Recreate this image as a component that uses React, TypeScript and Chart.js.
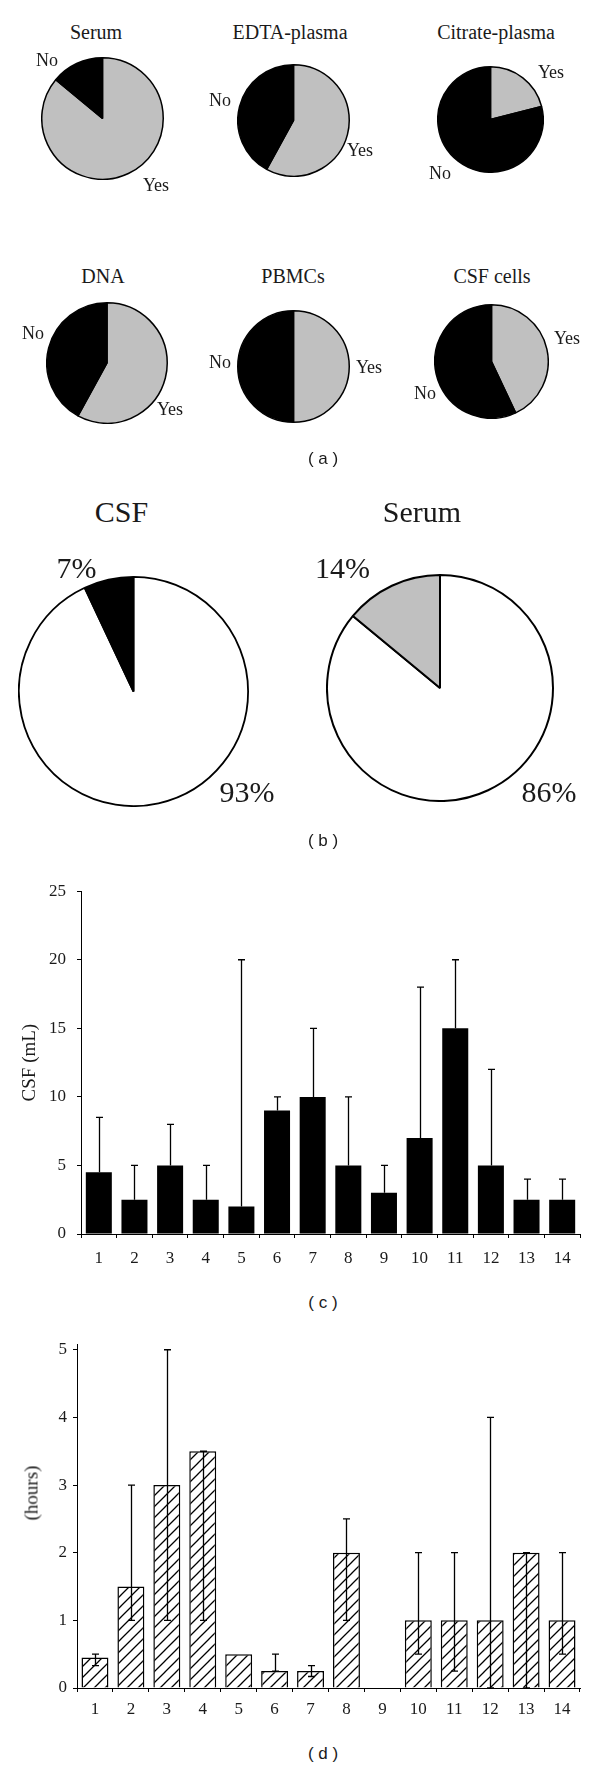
import React, { useEffect, useRef } from 'react';
import { Chart, registerables } from 'chart.js';

Chart.register(...registerables);

// ---------- Data ----------
const sampleTypes = ['Serum', 'EDTA-plasma', 'Citrate-plasma', 'DNA', 'PBMCs', 'CSF cells'];
const sampleYes = [86, 58, 21, 58, 50, 43];
const sampleNo = [14, 42, 79, 42, 50, 57];

const fluidTitles = ['CSF', 'Serum'];
const fluidMajor = [93, 86];
const fluidMinor = [7, 14];

const subjects = ['1', '2', '3', '4', '5', '6', '7', '8', '9', '10', '11', '12', '13', '14'];
const csfVolume = [4.5, 2.5, 5, 2.5, 2, 9, 10, 5, 3, 7, 15, 5, 2.5, 2.5];
const csfVolumeMax = [8.5, 5, 8, 5, 20, 10, 15, 10, 5, 18, 20, 12, 4, 4];
const csfTicks = [0, 5, 10, 15, 20, 25];

const hoursMedian = [0.45, 1.5, 3, 3.5, 0.5, 0.25, 0.25, 2, null, 1, 1, 1, 2, 1];
const hoursMin = [0.33, 1, 1, 1, null, 0.25, 0.17, 1, null, 0.5, 0.25, 0, 0, 0.5];
const hoursMax = [0.5, 3, 5, 3.5, null, 0.5, 0.33, 2.5, null, 2, 2, 4, 2, 2];
const hoursTicks = [0, 1, 2, 3, 4, 5];

// ---------- Styles ----------
const SERIF = '"Liberation Serif", "Times New Roman", serif';
const SANS = '"Liberation Sans", Arial, sans-serif';
const INK = '#1a1a1a';
const GRAY = '#c0c0c0';

type TextProps = { x: number; y: number; text: string; size: number; family?: string; rotate?: boolean };
function Txt({ x, y, text, size, family = SERIF, rotate = false }: TextProps) {
  return (
    <div
      style={{
        position: 'absolute',
        left: x,
        top: y,
        transform: `translate(-50%, -50%)${rotate ? ' rotate(-90deg)' : ''}`,
        fontFamily: family,
        fontSize: size,
        lineHeight: 1,
        whiteSpace: 'pre',
        color: INK,
      }}
    >
      {text}
    </div>
  );
}

type PieProps = { cx: number; cy: number; r: number; values: number[]; colors: string[]; labels: string[]; bw: number };
function Pie({ cx, cy, r, values, colors, labels, bw }: PieProps) {
  const ref = useRef<HTMLCanvasElement>(null);
  const size = Math.round(2 * r + 2 * bw);
  useEffect(() => {
    const chart = new Chart(ref.current as HTMLCanvasElement, {
      type: 'pie',
      data: {
        labels,
        datasets: [{ data: values, backgroundColor: colors, borderColor: '#000', borderWidth: bw }],
      },
      options: {
        responsive: false,
        animation: false,
        events: [],
        layout: { padding: 0 },
        plugins: { legend: { display: false }, tooltip: { enabled: false } },
      },
    });
    return () => chart.destroy();
  }, []);
  return (
    <canvas
      ref={ref}
      width={size}
      height={size}
      style={{ position: 'absolute', left: Math.round(cx - size / 2), top: Math.round(cy - size / 2) }}
    />
  );
}

function errorBarPlugin(lows: (number | null)[], highs: (number | null)[], capLow: boolean, capHalf: number) {
  return {
    id: 'errorBars',
    afterDatasetsDraw(chart: any) {
      const { ctx } = chart;
      const y = chart.scales.y;
      const meta = chart.getDatasetMeta(0);
      ctx.save();
      ctx.strokeStyle = '#000';
      ctx.lineWidth = 1.3;
      meta.data.forEach((bar: any, i: number) => {
        const lo = lows[i];
        const hi = highs[i];
        if (lo == null || hi == null) return;
        const x = Math.round(bar.x) + 0.5;
        const y1 = y.getPixelForValue(lo);
        const y2 = y.getPixelForValue(hi);
        ctx.beginPath();
        ctx.moveTo(x, y1);
        ctx.lineTo(x, y2);
        ctx.moveTo(x - capHalf, y2);
        ctx.lineTo(x + capHalf, y2);
        if (capLow) {
          ctx.moveTo(x - capHalf, y1);
          ctx.lineTo(x + capHalf, y1);
        }
        ctx.stroke();
      });
      ctx.restore();
    },
  };
}

function makeHatch(): CanvasPattern | string {
  const s = 11;
  const c = document.createElement('canvas');
  c.width = s;
  c.height = s;
  const g = c.getContext('2d');
  if (!g) return '#fff';
  g.fillStyle = '#fff';
  g.fillRect(0, 0, s, s);
  g.strokeStyle = '#000';
  g.lineWidth = 1.3;
  g.beginPath();
  g.moveTo(-1, s + 1);
  g.lineTo(s + 1, -1);
  g.moveTo(-s / 2 - 1, s / 2 + 1);
  g.lineTo(s / 2 + 1, -s / 2 - 1);
  g.moveTo(s / 2 - 1, s * 1.5 + 1);
  g.lineTo(s * 1.5 + 1, s / 2 - 1);
  g.stroke();
  return g.createPattern(c, 'repeat') || '#fff';
}

function axisCommon(fontSize: number) {
  return {
    grid: { display: true, drawOnChartArea: false, color: '#000', tickLength: 4, lineWidth: 1 },
    border: { display: true, color: '#000', width: 1 },
    ticks: { color: INK, font: { family: SERIF, size: fontSize } },
  };
}

function CsfBar() {
  const ref = useRef<HTMLCanvasElement>(null);
  useEffect(() => {
    const base = axisCommon(17);
    const chart = new Chart(ref.current as HTMLCanvasElement, {
      type: 'bar',
      data: {
        labels: subjects,
        datasets: [
          {
            data: csfVolume,
            backgroundColor: '#000',
            borderWidth: 0,
            categoryPercentage: 1,
            barPercentage: 0.73,
          },
        ],
      },
      options: {
        responsive: false,
        animation: false,
        events: [],
        layout: { padding: { top: 19, right: 20, left: 0, bottom: 0 } },
        plugins: { legend: { display: false }, tooltip: { enabled: false } },
        scales: {
          x: {
            ...base,
            grid: { ...base.grid, offset: true },
            ticks: { ...base.ticks, padding: 10, maxRotation: 0, autoSkip: false },
            afterFit: (s: any) => {
              s.height = 46;
            },
          },
          y: {
            ...base,
            min: 0,
            max: 25,
            afterBuildTicks: (s: any) => {
              s.ticks = csfTicks.map((v) => ({ value: v }));
            },
            ticks: { ...base.ticks, padding: 11 },
            title: {
              display: true,
              text: 'CSF (mL)',
              color: INK,
              font: { family: SERIF, size: 19 },
              padding: { top: 19, bottom: 0 },
            },
            afterFit: (s: any) => {
              s.width = 81;
            },
          },
        },
      } as any,
      plugins: [errorBarPlugin(csfVolume, csfVolumeMax, false, 3.5)],
    });
    return () => chart.destroy();
  }, []);
  return <canvas ref={ref} width={600} height={410} style={{ position: 'absolute', left: 0, top: 870 }} />;
}

function HoursBar() {
  const ref = useRef<HTMLCanvasElement>(null);
  useEffect(() => {
    const base = axisCommon(17);
    const chart = new Chart(ref.current as HTMLCanvasElement, {
      type: 'bar',
      data: {
        labels: subjects,
        datasets: [
          {
            data: hoursMedian,
            backgroundColor: makeHatch(),
            borderColor: '#000',
            borderWidth: 1.5,
            categoryPercentage: 1,
            barPercentage: 0.75,
          },
        ],
      },
      options: {
        responsive: false,
        animation: false,
        events: [],
        layout: { padding: { top: 24, right: 20, left: 0, bottom: 0 } },
        plugins: { legend: { display: false }, tooltip: { enabled: false } },
        scales: {
          x: {
            ...base,
            grid: { ...base.grid, offset: true },
            ticks: { ...base.ticks, padding: 7, maxRotation: 0, autoSkip: false },
            afterFit: (s: any) => {
              s.height = 42;
            },
          },
          y: {
            ...base,
            min: 0,
            max: 5.085,
            afterBuildTicks: (s: any) => {
              s.ticks = hoursTicks.map((v) => ({ value: v }));
            },
            ticks: { ...base.ticks, padding: 6 },
            afterFit: (s: any) => {
              s.width = 77;
            },
          },
        },
      } as any,
      plugins: [errorBarPlugin(hoursMin, hoursMax, true, 3.5)],
    });
    return () => chart.destroy();
  }, []);
  return <canvas ref={ref} width={600} height={410} style={{ position: 'absolute', left: 0, top: 1320 }} />;
}

// layout of the six small pies (centre x, centre y, radius)
const smallPiePos = [
  [102.5, 118.5, 60],
  [293, 120.5, 55],
  [490, 119, 52],
  [107, 362.5, 59.5],
  [293, 366, 55],
  [491, 361, 56],
];
const smallTitlePos = [
  [96, 32],
  [290, 32],
  [496, 32],
  [103, 276],
  [293, 276],
  [492, 276],
];
const smallNoPos = [
  [47, 60],
  [220, 100],
  [440, 173],
  [33, 333],
  [220, 362],
  [425, 393],
];
const smallYesPos = [
  [156, 185],
  [360, 150],
  [551, 72],
  [170, 409],
  [369, 367],
  [567, 338],
];

export default function App() {
  return (
    <div style={{ position: 'absolute', left: 0, top: 0, width: 600, height: 1770, background: '#fff', overflow: 'hidden' }}>
      {sampleTypes.map((t, i) => (
        <React.Fragment key={t}>
          <Txt x={smallTitlePos[i][0]} y={smallTitlePos[i][1]} text={t} size={20} />
          <Pie
            cx={smallPiePos[i][0]}
            cy={smallPiePos[i][1]}
            r={smallPiePos[i][2]}
            values={[sampleYes[i], sampleNo[i]]}
            colors={[GRAY, '#000']}
            labels={['Yes', 'No']}
            bw={1.5}
          />
          <Txt x={smallNoPos[i][0]} y={smallNoPos[i][1]} text="No" size={18} />
          <Txt x={smallYesPos[i][0]} y={smallYesPos[i][1]} text="Yes" size={18} />
        </React.Fragment>
      ))}
      <Txt x={323} y={458} text="( a )" size={17} family={SANS} />

      <Txt x={121.5} y={512} text={fluidTitles[0]} size={30} />
      <Pie cx={133.5} cy={691} r={113.5} values={[fluidMajor[0], fluidMinor[0]]} colors={['#fff', '#000']} labels={['Other', 'CSF']} bw={1.8} />
      <Txt x={76.5} y={568} text={`${fluidMinor[0]}%`} size={30} />
      <Txt x={247} y={792} text={`${fluidMajor[0]}%`} size={30} />

      <Txt x={422} y={512} text={fluidTitles[1]} size={30} />
      <Pie cx={440} cy={687.5} r={112} values={[fluidMajor[1], fluidMinor[1]]} colors={['#fff', GRAY]} labels={['Other', 'Serum']} bw={2} />
      <Txt x={342.5} y={568} text={`${fluidMinor[1]}%`} size={30} />
      <Txt x={549} y={792} text={`${fluidMajor[1]}%`} size={30} />
      <Txt x={323} y={840} text="( b )" size={17} family={SANS} />

      <CsfBar />
      <Txt x={323} y={1302} text="( c )" size={17} family={SANS} />

      <HoursBar />
      <Txt x={30.5} y={1493} text="(hours)" size={19} rotate />
      <Txt x={323} y={1753} text="( d )" size={17} family={SANS} />
    </div>
  );
}
